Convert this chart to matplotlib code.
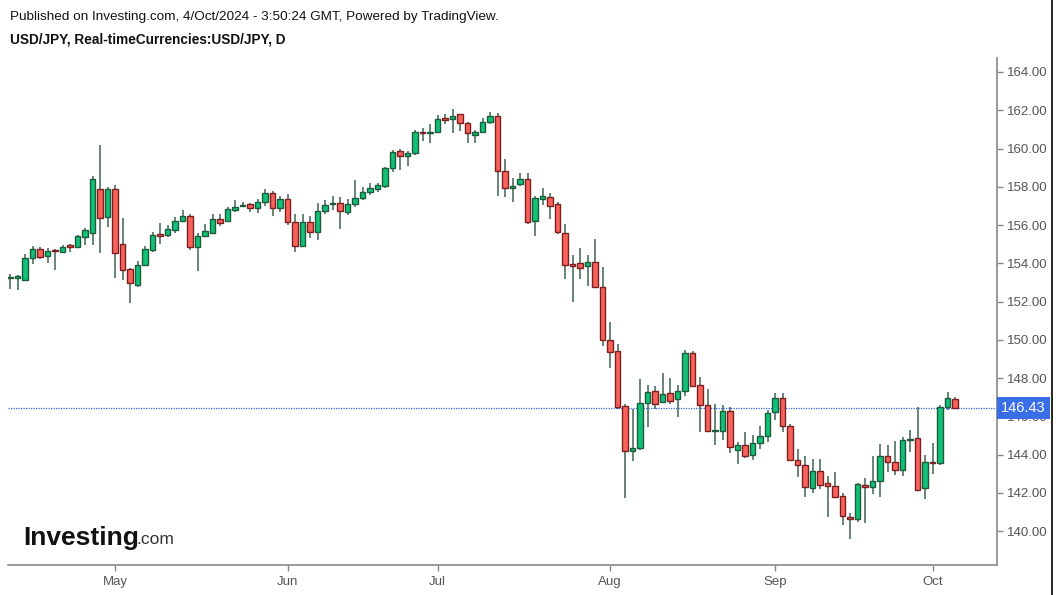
import matplotlib
matplotlib.use("Agg")
import matplotlib.pyplot as plt
from matplotlib.lines import Line2D
import numpy as np
import pandas as pd

plt.rcParams['font.family'] = ['Liberation Sans', 'DejaVu Sans']

# daily bars, 11 Apr 2024 .. 4 Oct 2024 (weekdays)
dates = pd.bdate_range("2024-04-11", "2024-10-04")

opens = [153.22, 153.25, 153.15, 154.30, 154.75, 154.38, 154.70, 154.60, 154.96, 154.85,
         155.37, 155.60, 157.90, 156.40, 157.87, 155.00, 153.68, 152.86, 153.90, 154.70,
         155.55, 155.48, 155.75, 156.20, 156.48, 154.87, 155.40, 155.60, 156.30, 156.20,
         156.80, 156.97, 157.10, 156.88, 157.19, 157.66, 156.88, 157.34, 156.14, 154.90,
         156.14, 155.62, 156.73, 157.08, 157.13, 156.70, 157.08, 157.40, 157.74, 157.88,
         158.05, 158.96, 159.88, 159.60, 159.75, 160.86, 160.80, 160.85, 161.58, 161.52,
         161.78, 161.32, 160.70, 160.85, 161.37, 161.70, 158.82, 157.92, 158.13, 158.39,
         156.20, 157.38, 157.45, 157.08, 155.56, 153.93, 154.00, 153.86, 154.05, 152.78,
         149.99, 149.40, 146.54, 144.18, 144.32, 146.68, 147.34, 146.73, 147.20, 146.89,
         147.32, 149.29, 147.63, 146.60, 145.23, 145.25, 146.27, 144.24, 144.50, 143.97,
         144.59, 144.97, 146.20, 146.93, 145.50, 143.72, 143.45, 142.23, 143.15, 142.50,
         142.35, 141.85, 140.75, 140.61, 142.40, 142.28, 142.61, 143.92, 143.59, 143.19,
         144.74, 144.85, 142.23, 143.63, 143.55, 146.46, 146.89]
highs = [153.45, 153.40, 154.50, 154.90, 154.85, 154.80, 154.72, 154.95, 155.00, 155.50,
         155.83, 158.55, 160.20, 158.00, 158.10, 156.35, 153.75, 154.10, 154.90, 155.65,
         156.10, 156.00, 156.40, 156.80, 156.60, 155.60, 156.05, 156.55, 156.60, 156.95,
         157.30, 157.20, 157.15, 157.35, 157.90, 157.80, 157.50, 157.60, 156.55, 156.55,
         156.45, 157.13, 157.30, 157.50, 157.45, 157.35, 158.35, 158.00, 158.20, 158.20,
         159.05, 159.90, 159.97, 159.88, 160.97, 161.06, 161.30, 161.75, 161.80, 162.05,
         161.82, 161.37, 160.97, 161.58, 161.90, 161.84, 159.45, 158.44, 158.70, 158.70,
         157.50, 157.92, 157.66, 157.20, 156.05, 154.43, 154.78, 154.43, 155.27, 153.83,
         150.94, 149.80, 146.64, 146.38, 147.95, 147.63, 147.60, 148.24, 147.98, 147.65,
         149.46, 149.40, 148.07, 147.40, 146.62, 146.60, 146.50, 144.67, 145.20, 145.00,
         145.50, 146.33, 147.20, 147.20, 145.60, 144.27, 143.92, 143.77, 143.77, 142.85,
         143.10, 141.97, 140.96, 142.50, 142.75, 143.94, 144.53, 144.50, 144.73, 144.90,
         145.28, 146.50, 143.97, 144.62, 146.60, 147.28, 147.00]
lows = [152.65, 152.60, 153.05, 153.95, 154.20, 154.00, 153.65, 154.55, 154.60, 154.78,
        154.95, 154.95, 154.55, 155.87, 153.25, 153.10, 151.90, 152.75, 153.85, 154.60,
        155.00, 155.35, 155.60, 156.18, 154.70, 153.60, 155.35, 155.55, 155.95, 156.15,
        156.70, 156.93, 156.70, 156.65, 157.00, 156.48, 156.67, 156.00, 154.60, 154.85,
        155.30, 155.20, 156.60, 156.80, 155.80, 156.50, 156.96, 157.30, 157.55, 157.70,
        157.95, 158.77, 158.85, 159.10, 159.65, 160.40, 160.30, 160.80, 161.30, 160.83,
        160.90, 160.30, 160.28, 160.80, 161.30, 157.50, 157.45, 157.22, 158.06, 156.05,
        155.44, 157.05, 156.31, 155.55, 153.16, 152.00, 153.16, 152.80, 152.69, 149.67,
        148.54, 146.40, 141.70, 143.66, 144.25, 145.45, 146.40, 146.70, 146.64, 145.98,
        147.06, 147.55, 145.19, 145.20, 144.50, 144.76, 144.10, 143.50, 143.80, 143.70,
        144.27, 144.67, 145.80, 145.20, 143.70, 142.84, 141.80, 141.97, 142.20, 140.75,
        141.70, 140.31, 139.58, 140.45, 140.44, 141.94, 141.76, 143.10, 142.93, 142.90,
        144.15, 142.10, 141.66, 142.96, 143.45, 146.32, 146.38]
closes = [153.30, 153.30, 154.30, 154.75, 154.35, 154.66, 154.62, 154.87, 154.86, 155.40,
          155.73, 158.40, 156.35, 157.87, 154.52, 153.65, 152.98, 153.90, 154.73, 155.50,
          155.45, 155.78, 156.22, 156.48, 154.87, 155.42, 155.70, 156.30, 156.13, 156.82,
          156.95, 157.02, 156.88, 157.18, 157.66, 156.88, 157.34, 156.14, 154.90, 156.14,
          155.62, 156.73, 157.06, 157.12, 156.73, 157.08, 157.40, 157.74, 157.92, 158.10,
          158.96, 159.80, 159.60, 159.75, 160.88, 160.80, 160.86, 161.52, 161.48, 161.72,
          161.32, 160.80, 160.85, 161.37, 161.70, 158.82, 157.92, 158.06, 158.39, 156.17,
          157.40, 157.52, 157.00, 155.62, 153.91, 153.88, 153.74, 154.05, 152.78, 150.00,
          149.34, 146.50, 144.18, 144.32, 146.68, 147.25, 146.62, 147.16, 146.81, 147.32,
          149.29, 147.58, 146.59, 145.23, 145.27, 146.27, 144.37, 144.50, 143.92, 144.59,
          144.97, 146.15, 146.93, 145.50, 143.72, 143.45, 142.28, 143.15, 142.40, 142.35,
          141.76, 140.78, 140.61, 142.44, 142.28, 142.63, 143.92, 143.59, 143.19, 144.76,
          144.78, 142.14, 143.59, 143.55, 146.50, 146.93, 146.43]

last_price = 146.43
y_ticks = [140, 142, 144, 146, 148, 150, 152, 154, 156, 158, 160, 162, 164]

o = np.array(opens)
h = np.array(highs)
l = np.array(lows)
c = np.array(closes)
x = np.arange(len(dates))
up = c >= o

W, H = 1060, 595
fig = plt.figure(figsize=(W / 100, H / 100), dpi=100)
fig.patch.set_facecolor('white')
ax = fig.add_axes([8 / W, 1 - 565 / H, (997 - 8) / W, (565 - 58) / H])

# wicks then bodies
ax.vlines(x, l, h, color='#3f6454', linewidth=1.1, zorder=2)
body_h = np.maximum(np.abs(c - o), 0.06)
body_b = np.minimum(o, c)
ax.bar(x[up], body_h[up], bottom=body_b[up], width=0.68,
       color='#10c277', edgecolor='#1e5a3c', linewidth=1.0, zorder=3)
ax.bar(x[~up], body_h[~up], bottom=body_b[~up], width=0.68,
       color='#f9625a', edgecolor='#7a2020', linewidth=1.0, zorder=3)

# last price line
ax.axhline(last_price, color='#3366ee', linestyle=(0, (1, 1)), linewidth=0.9, zorder=1)

ax.set_xlim(-0.27, 131.6)
ax.set_ylim(164 - 493 / 19.125, 164 + 14 / 19.125)

# month ticks at first bar of each month
month_pos = [i for i in range(1, len(dates)) if dates[i].month != dates[i - 1].month]
ax.set_xticks(month_pos)
ax.set_xticklabels([dates[i].strftime('%b') for i in month_pos])
ax.yaxis.tick_right()
ax.set_yticks(y_ticks)
ax.set_yticklabels([f'{v:.2f}' for v in y_ticks])
ax.tick_params(axis='both', colors='#888888', labelcolor='#555555', labelsize=9.5,
               length=4, width=1)
ax.tick_params(axis='x', pad=4)
ax.tick_params(axis='y', pad=3)

for s in ['top', 'left']:
    ax.spines[s].set_visible(False)
for s in ['bottom', 'right']:
    ax.spines[s].set_color('#888888')
    ax.spines[s].set_linewidth(1.2)

# price label on axis
ax.text(1.004, last_price, f'{last_price:.2f}', transform=ax.get_yaxis_transform(),
        ha='left', va='center', color='white', fontsize=10.5, zorder=5,
        bbox=dict(boxstyle='square,pad=0.3', facecolor='#3a6ee8', edgecolor='none'))

# header
fig.text(10 / W, 1 - 17 / H, 'Published on Investing.com, 4/Oct/2024 - 3:50:24 GMT, Powered by TradingView.',
         ha='left', va='center', fontsize=9.7, color='#111111')
fig.text(10 / W, 1 - 40 / H, 'USD/JPY, Real-timeCurrencies:USD/JPY, D',
         ha='left', va='center', fontsize=9.8, fontweight='bold', color='#111111')

# logo
fig.text(23 / W, 1 - 538 / H, 'Investing', ha='left', va='center',
         fontsize=19, fontweight='heavy', color='#111111')
fig.text(136 / W, 1 - 540 / H, '.com', ha='left', va='center', fontsize=12.5, color='#333333')

# right border
fig.add_artist(Line2D([1052 / W, 1052 / W], [0, 1], color='black', linewidth=1.2))

fig.savefig('out.png', dpi=100)
